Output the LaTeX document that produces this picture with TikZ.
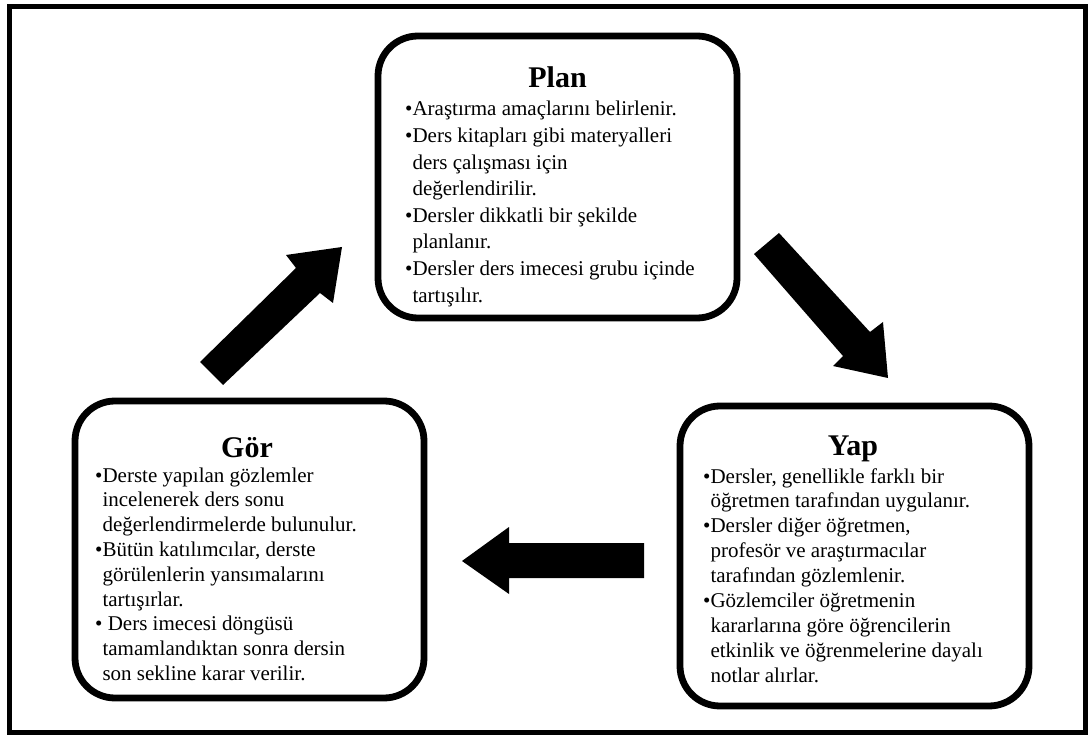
\documentclass[tikz,border=0pt]{standalone}
\usepackage{fontspec}
\setmainfont{Liberation Serif}
\newcommand{\Lb}[1]{\hbox{•#1}}
\newcommand{\Lc}[1]{\hbox{\phantom{•}#1}}
\begin{document}
\begin{tikzpicture}[x=1pt,y=-1pt,
  box/.style={draw, line width=6.8pt, rounded corners=40pt, inner sep=0pt},
  ttl/.style={font=\fontsize{30}{34}\selectfont\bfseries, anchor=base, inner sep=0pt},
  body/.style={font=\fontsize{21}{24}\selectfont, anchor=base west, inner sep=0pt},
  blk/.style={fill=black, draw=none}]
\useasboundingbox (0,0) rectangle (1088,738);
\draw[line width=5pt] (9,7) rectangle (1085,732);
% boxes
\node[box, minimum width=359pt, minimum height=282pt] (plan) at (557.5,177) {};
\node[box, minimum width=349pt, minimum height=297pt] (gor) at (249.5,549.5) {};
\node[box, minimum width=349pt, minimum height=300pt] (yap) at (854.5,556) {};
% titles
\node[ttl] (plant) at (557.5,88) {Plan};
\node[ttl] (gort) at (247,457) {Gör};
\node[ttl] (yapt) at (853,455) {Yap};
% bodies
\node[body] (planb) at (405,116) {\vtop{\baselineskip=26.6pt
  \Lb{Araştırma amaçlarını belirlenir.}
  \Lb{Ders kitapları gibi materyalleri}
  \Lc{ders çalışması için}
  \Lc{değerlendirilir.}
  \Lb{Dersler dikkatli bir şekilde}
  \Lc{planlanır.}
  \Lb{Dersler ders imecesi grubu içinde}
  \Lc{tartışılır.}}};
\node[body] (gorb) at (95,482) {\vtop{\baselineskip=24.8pt
  \Lb{Derste yapılan gözlemler}
  \Lc{incelenerek ders sonu}
  \Lc{değerlendirmelerde bulunulur.}
  \Lb{Bütün katılımcılar, derste}
  \Lc{görülenlerin yansımalarını}
  \Lc{tartışırlar.}
  \Lb{ Ders imecesi döngüsü}
  \Lc{tamamlandıktan sonra dersin}
  \Lc{son sekline karar verilir.}}};
\node[body] (yapb) at (703,483) {\vtop{\baselineskip=24.9pt
  \Lb{Dersler, genellikle farklı bir}
  \Lc{öğretmen tarafından uygulanır.}
  \Lb{Dersler diğer öğretmen,}
  \Lc{profesör ve araştırmacılar}
  \Lc{tarafından gözlemlenir.}
  \Lb{Gözlemciler öğretmenin}
  \Lc{kararlarına göre öğrencilerin}
  \Lc{etkinlik ve öğrenmelerine dayalı}
  \Lc{notlar alırlar.}}};
% block arrows
\fill[blk] (200,362) -- (296,268) -- (286,255) -- (342,247) -- (333,303) -- (320,293) -- (223,385) -- cycle;
\fill[blk] (779,233) -- (870,332) -- (883,322) -- (888,378) -- (833,366) -- (843,356) -- (754,254) -- cycle;
\fill[blk] (462,561) -- (509,527) -- (509,543) -- (644,543) -- (644,578) -- (509,578) -- (509,594) -- cycle;
\end{tikzpicture}
\end{document}
